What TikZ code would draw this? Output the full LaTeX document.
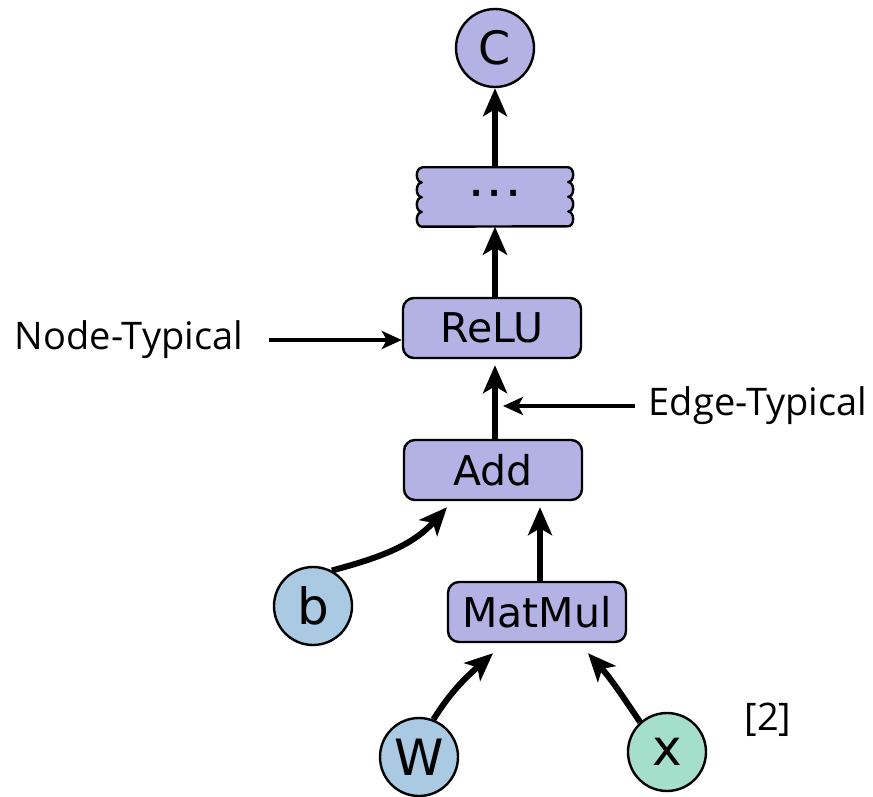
\documentclass[tikz,border=0pt]{standalone}
\usepackage{fontspec}
\setmainfont{Open Sans}
\newfontfamily\graphfont{DejaVu Sans}
\usetikzlibrary{arrows.meta,backgrounds}
\definecolor{opfill}{RGB}{180,178,228}
\definecolor{varfill}{RGB}{170,201,226}
\definecolor{inpfill}{RGB}{166,222,204}
\tikzset{
  opnode/.style={draw=black, line width=2.4pt, fill=opfill, rounded corners=11pt,
    minimum width=178pt, minimum height=60pt, inner sep=0pt,
    font=\graphfont\fontsize{41}{41}\selectfont},
  varnode/.style={circle, draw=black, line width=2.4pt, minimum size=78pt, inner sep=0pt,
    font=\graphfont\fontsize{50}{50}\selectfont},
  flow/.style={line width=6pt, -{Stealth[length=28pt,width=24pt,inset=7pt]}},
  pointer/.style={line width=4pt, -{Stealth[length=20pt,width=18pt,inset=5pt]}},
  note/.style={font=\fontsize{38}{38}\selectfont, inner sep=0pt}
}
\begin{document}
\begin{tikzpicture}[x=1pt,y=1pt]
\useasboundingbox (0,0) rectangle (873,796);
%
\node[varnode, fill=opfill, font=\graphfont\fontsize{46}{46}\selectfont] (C) at (495,748) {C};
\node[minimum width=146pt, minimum height=59pt, inner sep=0pt,
  font=\graphfont\bfseries\fontsize{32}{32}\selectfont] (dots) at (495,599)
  {\raisebox{-3pt}{·\hspace{6pt}·\hspace{6pt}·}};
\begin{scope}[on background layer]
\draw[line width=2.4pt, fill=opfill, line join=round]
  (dots.north west) -- (dots.north east)
  \foreach \k in {1,...,4} { arc[start angle=90, end angle=-90, x radius=5pt, y radius=7.375pt] }
  -- (dots.south west)
  \foreach \k in {1,...,4} { arc[start angle=-90, end angle=-270, x radius=5pt, y radius=7.375pt] }
  -- cycle;
\end{scope}
\node[opnode] (relu) at (492,468) {ReLU};
\node[opnode] (add) at (493,326) {Add};
%
\node[varnode, fill=varfill] (b) at (313,190) {b};
\node[opnode] (matmul) at (537,184) {MatMul};
\node[varnode, fill=varfill] (W) at (419,39) {W};
\node[varnode, fill=inpfill] (x) at (667,44) {x};
%
\draw[flow] (dots) -- (C);
\draw[flow] (dots.south |- relu.north) -- (dots.south);
\draw[flow, shorten >=6pt] (add.north -| dots.south) -- (relu.south -| dots.south);
\draw[flow, shorten >=6pt] (matmul.north -| 540,0) -- (add.south -| 540,0);
\draw[flow] (b.62) to[out=15, in=228] ([xshift=-46pt,yshift=-6pt]add.south);
\draw[flow] (W.69) to[out=58, in=222] ([xshift=-44pt,yshift=-10pt]matmul.south);
\draw[flow] (x.132) to[out=124, in=-48] ([xshift=51pt,yshift=-10pt]matmul.south);
%
\node[note] (nodetxt) at (129,456) {Node-Typical};
\draw[pointer] ([xshift=26pt]nodetxt.east) -- (nodetxt.east -| relu.west);
\node[note] (edgetxt) at (758,390) {Edge-Typical};
\coordinate (edgetip) at (503,390);
\draw[pointer] ([xshift=-14pt]edgetxt.west) -- (edgetip);
\node[note] (cite) at (768,76) {[2]};
\end{tikzpicture}
\end{document}
